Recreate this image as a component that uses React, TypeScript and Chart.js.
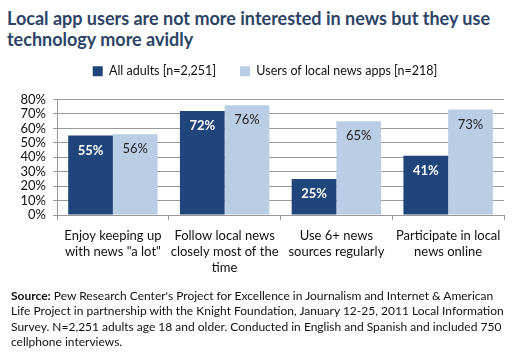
import React, { useEffect, useRef } from "react";
import { Chart, registerables } from "chart.js";

Chart.register(...registerables);

const categories: string[][] = [
  ["Enjoy keeping up", 'with news "a lot"'],
  ["Follow local news", "closely most of the", "time"],
  ["Use 6+ news", "sources regularly"],
  ["Participate in local", "news online"],
];
const allAdults: number[] = [55, 72, 25, 41];
const appUsers: number[] = [56, 76, 65, 73];
const seriesNames: string[] = ["All adults [n=2,251]", "Users of local news apps [n=218]"];
const yTicks: number[] = [0, 10, 20, 30, 40, 50, 60, 70, 80];

const FONT = "Lato, 'Open Sans', sans-serif";
const DARK = "#1F457A";
const LIGHT = "#B9CDE5";

const barLabels = {
  id: "barLabels",
  afterDatasetsDraw(chart: any) {
    const ctx = chart.ctx;
    ctx.save();
    ctx.textAlign = "center";
    ctx.textBaseline = "middle";
    chart.data.datasets.forEach((ds: any, di: number) => {
      const meta = chart.getDatasetMeta(di);
      meta.data.forEach((el: any, i: number) => {
        ctx.fillStyle = di === 0 ? "#ffffff" : "#222222";
        ctx.font = di === 0 ? `bold 13px ${FONT}` : `13px ${FONT}`;
        ctx.fillText(`${ds.data[i]}%`, el.x, el.y + 15);
      });
    });
    ctx.restore();
  },
};

const legendGap = {
  id: "legendGap",
  beforeInit(chart: any) {
    const legend = chart.legend;
    if (!legend) return;
    const origFit = legend.fit;
    legend.fit = function () {
      origFit.bind(legend)();
      this.height += 13;
    };
    const origDraw = legend.draw;
    legend.draw = function (...args: any[]) {
      const ctx = chart.ctx;
      ctx.save();
      ctx.translate(13, 1);
      origDraw.apply(legend, args);
      ctx.restore();
    };
  },
};

export default function App() {
  const ref = useRef<HTMLCanvasElement>(null);
  useEffect(() => {
    if (!ref.current) return;
    const chart = new Chart(ref.current, {
      type: "bar",
      data: {
        labels: categories,
        datasets: [
          { label: seriesNames[0], data: allAdults, backgroundColor: DARK, categoryPercentage: 0.8, barPercentage: 1 },
          { label: seriesNames[1], data: appUsers, backgroundColor: LIGHT, categoryPercentage: 0.8, barPercentage: 1 },
        ],
      },
      options: {
        animation: false,
        responsive: false,
        layout: { padding: { top: 40, left: 0, right: 11, bottom: 0 } },
        plugins: {
          legend: {
            position: "top",
            labels: {
              boxWidth: 10,
              boxHeight: 10,
              padding: 24,
              color: "#111",
              font: { family: FONT, size: 12.5 },
            },
          },
          tooltip: { enabled: false },
        },
        scales: {
          x: {
            grid: { display: true, drawOnChartArea: false, color: "#999", tickLength: 5, offset: true },
            border: { color: "#999" },
            ticks: { color: "#111", font: { family: FONT, size: 13, lineHeight: 1.23 }, padding: 8, maxRotation: 0 },
            afterFit: (s: any) => { s.height = 146; },
          },
          y: {
            min: 0,
            max: 80,
            afterBuildTicks: (s: any) => { s.ticks = yTicks.map((v) => ({ value: v })); },
            grid: { color: "#999", tickLength: 4 },
            border: { color: "#999" },
            ticks: { color: "#111", font: { family: FONT, size: 13 }, padding: 7, autoSkip: false, stepSize: 10, callback: (v: any) => `${v}%` },
            afterFit: (s: any) => { s.width = 57; },
          },
        },
      },
      plugins: [legendGap, barLabels],
    });
    return () => chart.destroy();
  }, []);

  return (
    <div style={{ position: "absolute", left: 0, top: 0, width: 515, height: 361, background: "#fff", fontFamily: FONT }}>
      <div style={{ position: "absolute", left: 7, top: 8, width: 507, fontWeight: 700, fontSize: 18, lineHeight: "21px", color: "#2B4466" }}>
        Local app users are not more interested in news but they use technology more avidly
      </div>
      <canvas ref={ref} width={515} height={361} style={{ position: "absolute", left: 0, top: 0 }} />
      <div style={{ position: "absolute", left: 11, top: 288, width: 500, fontSize: 12, lineHeight: "15.3px", color: "#111" }}>
        <b>Source:</b> Pew Research Center's Project for Excellence in Journalism and Internet &amp; American Life Project in partnership with the Knight Foundation, January 12-25, 2011 Local Information Survey. N=2,251 adults age 18 and older. Conducted in English and Spanish and included 750 cellphone interviews.
      </div>
    </div>
  );
}
